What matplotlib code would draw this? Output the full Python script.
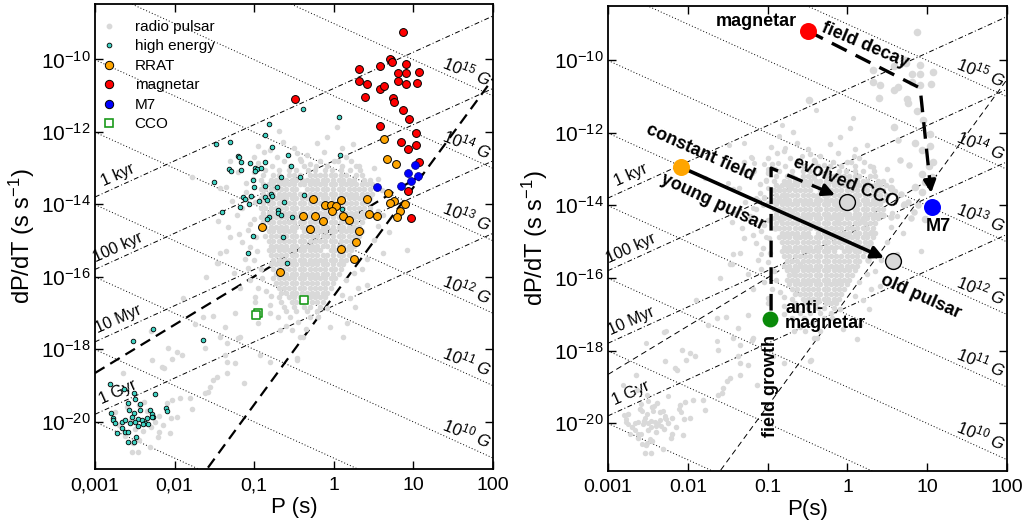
import numpy as np
import matplotlib
matplotlib.use('Agg')
import matplotlib.pyplot as plt
from matplotlib.lines import Line2D
from matplotlib.ticker import NullLocator

plt.rcParams['font.family'] = ['Liberation Sans', 'DejaVu Sans']
plt.rcParams['mathtext.fontset'] = 'custom'
plt.rcParams['mathtext.rm'] = 'Liberation Sans'
plt.rcParams['mathtext.it'] = 'Liberation Sans:italic'
plt.rcParams['mathtext.bf'] = 'Liberation Sans:bold'

# ---- data: log10 P (s), log10 dP/dt ----
# dense core of the radio pulsars, one row per log Pdot
radio_core = [
    (-12.80, [-0.62, -0.41, -0.18, 0.05, 0.21]),
    (-12.93, [-0.78, -0.55, -0.37, -0.22, -0.08, 0.1, 0.28]),
    (-13.06, [-0.86, -0.69, -0.56, -0.47, -0.33, -0.24, -0.11, -0.02, 0.09, 0.2, 0.33]),
    (-13.19, [-0.89, -0.76, -0.69, -0.56, -0.5, -0.43, -0.3, -0.24, -0.17, -0.11, -0.04, 0.02, 0.09, 0.15, 0.28, 0.35]),
    (-13.32, [-0.92, -0.79, -0.73, -0.66, -0.6, -0.53, -0.47, -0.4, -0.34, -0.27, -0.21, -0.14, -0.08, -0.01, 0.06, 0.12, 0.19, 0.25, 0.38, 0.45]),
    (-13.45, [-0.89, -0.82, -0.76, -0.69, -0.63, -0.56, -0.5, -0.43, -0.37, -0.3, -0.24, -0.17, -0.11, -0.04, 0.02, 0.09, 0.15, 0.22, 0.28, 0.35, 0.41, 0.48]),
    (-13.58, [-0.92, -0.86, -0.79, -0.73, -0.66, -0.6, -0.53, -0.47, -0.34, -0.27, -0.21, -0.14, -0.08, -0.01, 0.06, 0.12, 0.19, 0.25, 0.32, 0.38, 0.45]),
    (-13.71, [-0.89, -0.82, -0.76, -0.69, -0.63, -0.56, -0.5, -0.43, -0.37, -0.3, -0.24, -0.17, -0.11, -0.04, 0.02, 0.09, 0.15, 0.22, 0.28, 0.35, 0.41, 0.48]),
    (-13.84, [-0.92, -0.86, -0.79, -0.73, -0.66, -0.6, -0.53, -0.47, -0.4, -0.34, -0.27, -0.21, -0.14, -0.08, -0.01, 0.06, 0.12, 0.19, 0.25, 0.32, 0.38, 0.45]),
    (-13.97, [-0.89, -0.82, -0.76, -0.69, -0.63, -0.56, -0.5, -0.43, -0.37, -0.3, -0.24, -0.17, -0.11, -0.04, 0.02, 0.09, 0.15, 0.22, 0.28, 0.35, 0.41]),
    (-14.10, [-0.92, -0.86, -0.79, -0.73, -0.66, -0.6, -0.53, -0.47, -0.4, -0.34, -0.27, -0.21, -0.14, -0.08, -0.01, 0.12, 0.19, 0.25, 0.32, 0.38, 0.45]),
    (-14.23, [-0.89, -0.82, -0.76, -0.69, -0.63, -0.56, -0.5, -0.43, -0.37, -0.3, -0.24, -0.17, -0.11, -0.04, 0.02, 0.09, 0.15, 0.22, 0.28, 0.35, 0.41]),
    (-14.36, [-0.92, -0.86, -0.79, -0.73, -0.66, -0.6, -0.53, -0.47, -0.4, -0.34, -0.27, -0.21, -0.14, -0.08, -0.01, 0.06, 0.12, 0.19, 0.25, 0.32, 0.38]),
    (-14.49, [-0.89, -0.82, -0.76, -0.69, -0.63, -0.56, -0.5, -0.43, -0.37, -0.3, -0.24, -0.17, -0.11, -0.04, 0.02, 0.09, 0.15, 0.22, 0.28, 0.35]),
    (-14.62, [-0.86, -0.79, -0.73, -0.66, -0.6, -0.53, -0.47, -0.4, -0.34, -0.27, -0.21, -0.14, -0.08, -0.01, 0.06, 0.12, 0.19, 0.25, 0.32]),
    (-14.75, [-0.82, -0.76, -0.69, -0.63, -0.56, -0.5, -0.37, -0.3, -0.24, -0.17, -0.11, -0.04, 0.02, 0.09, 0.15, 0.22, 0.28, 0.35]),
    (-14.88, [-0.86, -0.79, -0.73, -0.66, -0.6, -0.53, -0.47, -0.4, -0.34, -0.27, -0.21, -0.14, -0.08, -0.01, 0.06, 0.12, 0.19, 0.25, 0.32]),
    (-15.01, [-0.82, -0.76, -0.69, -0.63, -0.56, -0.5, -0.43, -0.37, -0.3, -0.24, -0.17, -0.11, -0.04, 0.02, 0.09, 0.15, 0.22, 0.28]),
    (-15.14, [-0.79, -0.73, -0.66, -0.6, -0.53, -0.47, -0.4, -0.34, -0.27, -0.21, -0.14, -0.08, -0.01, 0.06, 0.12, 0.19, 0.25]),
    (-15.27, [-0.82, -0.76, -0.69, -0.63, -0.56, -0.5, -0.43, -0.37, -0.3, -0.24, -0.17, -0.04, 0.02, 0.09, 0.15, 0.22]),
    (-15.40, [-0.79, -0.73, -0.66, -0.6, -0.53, -0.47, -0.4, -0.34, -0.27, -0.21, -0.14, -0.08, -0.01, 0.06, 0.12, 0.19]),
    (-15.53, [-0.76, -0.69, -0.63, -0.56, -0.5, -0.43, -0.37, -0.3, -0.24, -0.17, -0.11, -0.04, 0.02, 0.09, 0.15]),
    (-15.66, [-0.79, -0.73, -0.66, -0.6, -0.53, -0.47, -0.4, -0.34, -0.27, -0.21, -0.14, -0.08, -0.01, 0.06, 0.12]),
    (-15.79, [-0.76, -0.69, -0.63, -0.56, -0.5, -0.43, -0.37, -0.3, -0.24, -0.17, -0.11, -0.04, 0.02, 0.09]),
    (-15.92, [-0.73, -0.66, -0.6, -0.53, -0.47, -0.4, -0.34, -0.27, -0.21, -0.14, -0.08, -0.01, 0.06]),
    (-16.05, [-0.76, -0.69, -0.63, -0.56, -0.5, -0.43, -0.37, -0.3, -0.24, -0.17, -0.11, -0.04, 0.02]),
    (-16.18, [-0.73, -0.66, -0.6, -0.53, -0.47, -0.4, -0.34, -0.27, -0.21, -0.14, -0.08, -0.01]),
    (-16.31, [-0.69, -0.63, -0.56, -0.5, -0.43, -0.37, -0.3, -0.24, -0.17, -0.11, -0.04]),
    (-16.44, [-0.66, -0.6, -0.53, -0.47, -0.4, -0.34, -0.27, -0.21, -0.14, -0.08]),
    (-16.57, [-0.69, -0.56, -0.5, -0.43, -0.37, -0.3, -0.24, -0.17, -0.11]),
    (-16.70, [-0.66, -0.53, -0.47, -0.4, -0.27, -0.21, -0.14]),
    (-16.83, [-0.63, -0.5, -0.37, -0.3, -0.17]),
    (-16.96, [-0.6, -0.47, -0.34, -0.21]),
    (-17.10, [-0.55, -0.3]),
]

# scattered radio pulsars outside the core
radio_sparse = [
    (-0.685, -11.98), (-0.956, -12.38), (-0.634, -12.29), (-0.466, -12.59), (-0.34, -12.64),
    (-0.215, -12.30), (-1.785, -13.25), (-1.43, -13.56), (-1.30, -12.80), (-1.354, -13.51),
    (-1.451, -14.45), (-1.325, -14.62), (-1.187, -14.83), (-1.053, -15.17), (0.036, -11.86),
    (-0.089, -12.13), (0.245, -12.33), (0.10, -12.45),
    (-1.974, -18.07), (-2.029, -18.27), (-2.133, -18.53), (-1.618, -17.98), (-1.367, -18.16),
    (-1.241, -18.39), (-1.345, -18.67), (-1.514, -18.85), (-1.471, -18.76), (-1.555, -19.04),
    (-1.577, -19.18), (-1.618, -19.22), (-1.807, -19.36), (-1.785, -19.64), (-1.932, -19.36),
    (-2.036, -19.41), (-1.974, -19.87), (-2.205, -20.42), (-2.309, -20.70), (-2.539, -20.83),
    (-2.456, -20.83), (-2.644, -18.67), (-2.288, -18.30), (-2.162, -18.49), (-2.079, -17.98),
    (-1.911, -18.16), (-1.43, -17.66), (-1.345, -17.84), (-1.20, -17.70), (-1.451, -15.63),
    (-1.64, -17.10), (-2.058, -20.33), (-2.519, -20.60),
    (-2.6, -19.6), (-2.45, -19.55), (-2.35, -19.7), (-2.2, -19.85), (-2.5, -20.2),
    (-2.4, -20.25), (-2.3, -20.15), (-2.7, -20.1), (-2.55, -19.95), (-2.25, -20.0),
    (-2.38, -19.45), (-2.15, -20.1), (-2.62, -20.4), (-2.45, -20.5), (-2.2, -20.3),
    (-2.75, -19.75), (-2.1, -19.5), (-2.05, -19.9),
    (-0.99, -16.55), (-0.99, -16.69), (-0.789, -16.53), (-0.80, -16.78), (-1.241, -17.01),
    (-1.521, -17.09), (-1.367, -17.38), (-1.178, -17.66), (-0.948, -17.27), (-0.676, -17.47),
    (-0.425, -17.66), (-0.529, -17.47), (-0.089, -16.87), (0.119, -17.67), (-0.927, -18.16),
    (-0.80, -18.35), (-0.466, -18.30), (-1.345, -18.35), (-1.43, -15.35), (-1.471, -15.63),
    (0.622, -15.34), (0.916, -15.26), (0.266, -16.85), (0.162, -17.29), (-0.383, -17.66),
    (-0.459, -18.25), (-1.128, -18.94), (0.413, -16.23), (0.697, -14.76), (0.55, -14.6),
    (0.62, -14.3), (0.7, -14.0), (0.5, -15.0),
    (-1.1, -13.4), (-1.05, -13.8), (-1.15, -14.1), (-1.0, -14.4), (-1.08, -14.7),
    (-1.2, -13.1), (-1.0, -13.1), (-1.12, -15.5), (-1.25, -15.9), (-1.05, -16.1),
    (-0.95, -16.3), (-1.6, -16.0), (-1.9, -16.6), (-1.75, -17.3), (-2.3, -17.5),
    (-1.0, -12.7), (-0.8, -12.5),
    (-0.95, -12.85), (-0.72, -12.7), (-0.5, -12.45), (-0.3, -12.9), (-0.12, -12.55),
    (0.15, -12.7), (0.32, -12.95), (-0.88, -12.55), (-0.42, -12.75), (0.0, -12.8),
    (-1.02, -13.3), (-1.1, -13.65), (-0.99, -13.95), (-1.22, -14.3), (-1.05, -14.55),
    (-0.98, -14.9), (-1.15, -15.05), (-0.97, -15.3), (-1.0, -15.55), (-0.92, -15.8),
    (-1.08, -15.75), (-0.9, -16.05), (-0.85, -16.4), (-1.18, -16.3), (-1.3, -14.9),
    (-1.35, -15.3), (-1.28, -13.9),
    (-0.7, -17.1), (-0.45, -17.25), (-0.2, -17.1), (-0.6, -17.35), (-0.05, -17.4),
    (-0.35, -17.45), (-0.8, -17.0),
    (0.3, -16.3), (0.2, -16.6), (0.35, -15.8), (0.42, -15.5), (0.56, -14.2),
    (0.6, -13.6), (0.55, -13.3), (0.5, -13.0), (0.1, -16.5), (0.15, -16.1), (0.25, -15.9),
]

high_energy = [
    (-0.39, -11.37), (0.065, -11.60), (-0.82, -11.78), (-0.86, -12.09), (-1.48, -12.34),
    (-1.30, -12.29), (-0.78, -12.41), (-0.575, -12.64), (-1.21, -12.66), (-1.19, -12.69),
    (-1.17, -12.84), (-1.05, -12.87), (-0.87, -12.84), (-1.32, -13.03), (-1.29, -13.08),
    (-1.17, -13.05), (-0.99, -12.99), (-0.97, -13.02), (-0.99, -13.08), (-0.91, -12.99),
    (-0.54, -12.94), (-1.02, -13.32), (-1.50, -13.38), (-0.66, -13.24), (-0.42, -13.24),
    (-1.00, -13.51), (-0.86, -13.49), (-0.71, -13.53), (-0.79, -13.72), (-0.78, -13.76),
    (-1.04, -13.77), (-1.14, -13.81), (-1.12, -13.85), (-0.86, -13.79), (-0.84, -13.88),
    (-0.94, -13.91), (-1.06, -14.00), (-0.63, -13.93), (-0.38, -13.74), (-1.18, -14.07),
    (-1.40, -14.21), (-0.70, -14.16), (-0.70, -14.23), (-0.67, -14.30), (-0.81, -14.34),
    (-0.84, -14.41), (-0.53, -14.36), (-1.02, -14.88), (-0.64, -14.91), (0.08, -12.64),
    (0.10, -14.13), (-1.08, -15.35), (-0.59, -15.63), (-1.64, -17.75), (-2.27, -17.45),
    (-2.52, -17.78),
    (-2.81, -18.96), (-2.64, -19.10), (-2.51, -19.22), (-2.50, -19.38), (-2.59, -19.48),
    (-2.25, -19.24), (-2.43, -19.52), (-2.57, -19.68), (-2.80, -19.77), (-2.51, -19.76),
    (-2.44, -19.68), (-2.31, -19.68), (-2.29, -19.80), (-2.27, -19.88), (-2.54, -19.87),
    (-2.78, -19.90), (-2.77, -19.96), (-2.75, -20.03), (-2.66, -20.01), (-2.62, -19.96),
    (-2.46, -19.94), (-2.41, -19.96), (-2.35, -19.91), (-2.37, -20.03), (-2.33, -20.07),
    (-2.50, -20.01), (-2.56, -20.03), (-2.46, -20.12), (-2.40, -20.08), (-2.11, -19.62),
    (-2.09, -19.70), (-2.66, -20.19), (-2.62, -20.30), (-2.59, -20.30), (-2.73, -20.31),
    (-2.48, -20.44), (-2.51, -20.56), (-2.58, -20.57), (-2.28, -19.87),
]

rrat = [
    (0.631, -12.20), (0.662, -12.76), (0.775, -12.89), (0.675, -13.70), (0.760, -13.90),
    (0.702, -13.96), (0.888, -13.98), (0.828, -14.18), (0.790, -14.34), (0.417, -13.86),
    (0.442, -14.27), (0.539, -14.32), (0.313, -14.74), (0.276, -15.04), (0.093, -15.24),
    (0.258, -15.52), (-0.265, -13.85), (-0.113, -14.02), (-0.039, -14.02), (0.021, -14.05),
    (0.088, -13.88), (-0.029, -14.20), (0.119, -14.33), (0.185, -14.43), (-0.383, -14.33),
    (-0.232, -14.33), (-0.132, -14.46), (-0.299, -14.69), (-0.905, -14.62), (-0.673, -15.88),
]

magnetar = [
    (0.873, -9.23), (0.715, -10.01), (0.580, -10.17), (0.706, -9.99), (0.727, -10.08),
    (0.317, -10.27), (0.903, -10.13), (0.810, -10.37), (0.903, -10.37), (1.074, -10.34),
    (0.317, -10.59), (0.413, -10.68), (0.580, -10.82), (0.634, -10.73), (0.810, -10.59),
    (0.903, -10.68), (1.041, -10.66), (-0.484, -11.10), (0.396, -11.04), (0.747, -11.07),
    (0.760, -11.19), (0.873, -11.41), (0.941, -11.64), (0.580, -11.83), (1.029, -12.04),
    (0.848, -12.29), (0.928, -12.47), (1.029, -12.36), (1.070, -12.82), (0.928, -13.63),
    (0.966, -14.37),
]

m7 = [(1.016, -12.91), (0.928, -13.13), (1.058, -13.22), (0.974, -13.36), (0.848, -13.49), (0.539, -13.51)]

cco = [(-0.374, -16.64), (-0.948, -17.01), (-0.981, -17.06)]

# reference lines
field_lines_G = [1e8, 1e9, 1e10, 1e11, 1e12, 1e13, 1e14, 1e15]
field_labels = {1e10: '10', 1e11: '11', 1e12: '12', 1e13: '13', 1e14: '14', 1e15: '15'}
age_lines_yr = [1e3, 1e5, 1e7, 1e9]
age_labels = ['1 kyr', '100 kyr', '10 Myr', '1 Gyr']
death_logk, death_slope = -16.53, 3.0
spinup_logk, spinup_slope = -14.66, 4.0 / 3.0

p_ticks = [1e-3, 1e-2, 1e-1, 1, 10, 100]
left_xlabels = ['0,001', '0,01', '0,1', '1', '10', '100']
right_xlabels = ['0.001', '0.01', '0.1', '1', '10', '100']
pdot_ticks = [1e-20, 1e-18, 1e-16, 1e-14, 1e-12, 1e-10]

GREY = '#d9d9d9'


def xy(pairs):
    a = np.array(pairs, dtype=float)
    return 10 ** a[:, 0], 10 ** a[:, 1]


core_p = []
core_pd = []
for lpd, row in radio_core:
    core_p += row
    core_pd += [lpd] * len(row)
radio_p = 10 ** np.concatenate([core_p, np.array(radio_sparse)[:, 0]])
radio_pd = 10 ** np.concatenate([core_pd, np.array(radio_sparse)[:, 1]])

P = np.logspace(-3, 2, 300)
# spin-up line stops where it meets the death line
p_cross = 10 ** ((spinup_logk - death_logk) / (death_slope - spinup_slope))
P_su = np.logspace(-3, np.log10(p_cross), 200)


def background(ax, thick):
    for B in field_lines_G:
        ax.plot(P, (B / 3.2e19) ** 2 / P, color='k', lw=0.7, ls=(0, (1, 2.2)), zorder=1)
    for tau in age_lines_yr:
        ax.plot(P, P / (2 * tau * 3.156e7), color='k', lw=0.7, ls=(0, (5, 2.5, 1, 2.5)), zorder=1)
    if thick:
        kw = dict(color='k', lw=1.6, ls=(0, (5, 3)), zorder=1)
    else:
        kw = dict(color='k', lw=0.7, ls=(0, (6, 4)), zorder=1)
    ax.plot(P, 10 ** death_logk * P ** death_slope, **kw)
    ax.plot(P_su, 10 ** spinup_logk * P_su ** spinup_slope, **kw)
    # labels of B and age lines
    for B, txt in field_labels.items():
        lp = 1.67
        lpd = 2 * np.log10(B / 3.2e19) - lp + 0.36
        ax.text(10 ** lp, 10 ** lpd, r'$\mathit{10^{%s}}$ G' % txt, fontsize=12, style='italic',
                rotation=-22, ha='center', va='center', zorder=2)
    for tau, txt in zip(age_lines_yr, age_labels):
        lp = -2.71
        lpd = lp - np.log10(2 * tau * 3.156e7) + 0.33
        ax.text(10 ** lp, 10 ** lpd, txt, fontsize=11.5, rotation=24,
                ha='center', va='center', zorder=2)


def style(ax, xlabels, xlabel, ybot, ytop):
    ax.set_xscale('log')
    ax.set_yscale('log')
    ax.set_xlim(1e-3, 1e2)
    ax.set_ylim(10 ** ybot, 10 ** ytop)
    ax.set_xticks(p_ticks)
    ax.set_xticklabels(xlabels)
    ax.set_yticks(pdot_ticks)
    ax.set_yticklabels([r'$10^{%d}$' % int(round(np.log10(t))) for t in pdot_ticks])
    ax.xaxis.set_minor_locator(NullLocator())
    ax.yaxis.set_minor_locator(NullLocator())
    ax.tick_params(direction='in', top=True, right=True, length=6, width=1.0)
    ax.tick_params(axis='x', labelsize=14, pad=6)
    ax.tick_params(axis='y', labelsize=15, pad=3)
    for s in ax.spines.values():
        s.set_linewidth(1.3)
    ax.set_xlabel(xlabel, fontsize=16, labelpad=2)
    ax.set_ylabel(r'dP/dT (s s$^{-1}$)', fontsize=17)
    ax.yaxis.set_label_coords(-0.145, 0.5)


fig = plt.figure(figsize=(10.26, 5.24), dpi=100)
ax1 = fig.add_axes([0.0926, 0.105, 0.388, 0.8874])
ax2 = fig.add_axes([0.5926, 0.1011, 0.389, 0.8874])

# ---------------- left panel ----------------
background(ax1, thick=True)
ax1.scatter(radio_p, radio_pd, s=16, c=GREY, lw=0, zorder=2)
hx, hy = xy(high_energy)
ax1.scatter(hx, hy, s=11, c='#3fd3c3', edgecolors='k', linewidths=0.6, zorder=3)
rx, ry = xy(rrat)
ax1.scatter(rx, ry, s=32, c='#ffa500', edgecolors='k', linewidths=0.7, zorder=4)
mx, my = xy(magnetar)
ax1.scatter(mx, my, s=32, c='#ff0000', edgecolors='k', linewidths=0.7, zorder=4)
bx, by = xy(m7)
ax1.scatter(bx, by, s=32, c='#0000ff', edgecolors='#000080', linewidths=0.5, zorder=4)
cx, cy = xy(cco)
ax1.scatter(cx, cy, s=34, marker='s', facecolors='white', edgecolors='#1a9a1a', linewidths=1.2, zorder=4)

handles = [
    Line2D([], [], ls='', marker='o', ms=3.2, mfc=GREY, mec=GREY),
    Line2D([], [], ls='', marker='o', ms=3.4, mfc='#3fd3c3', mec='k', mew=0.6),
    Line2D([], [], ls='', marker='o', ms=6, mfc='#ffa500', mec='k', mew=0.7),
    Line2D([], [], ls='', marker='o', ms=6, mfc='#ff0000', mec='k', mew=0.7),
    Line2D([], [], ls='', marker='o', ms=6, mfc='#0000ff', mec='k', mew=0.7),
    Line2D([], [], ls='', marker='s', ms=6, mfc='white', mec='#1a9a1a', mew=1.2),
]
ax1.legend(handles, ['radio pulsar', 'high energy', 'RRAT', 'magnetar', 'M7', 'CCO'],
           loc='upper left', bbox_to_anchor=(0.0, 0.979), frameon=False, fontsize=11,
           handlelength=1.0, handletextpad=1.2, labelspacing=0.36, borderpad=0.2,
           borderaxespad=0.2)
style(ax1, left_xlabels, 'P (s)', -21.31, -8.47)

# ---------------- right panel ----------------
background(ax2, thick=False)
ax2.scatter(radio_p, radio_pd, s=16, c=GREY, lw=0, zorder=2)
ax2.scatter(hx, hy, s=14, c=GREY, lw=0, zorder=2)
ax2.scatter(rx, ry, s=22, c=GREY, lw=0, zorder=2)
ax2.scatter(mx, my, s=30, c=GREY, lw=0, zorder=2)
ax2.scatter(bx, by, s=30, c=GREY, lw=0, zorder=2)
ax2.scatter(cx, cy, s=22, c=GREY, lw=0, zorder=2)

# evolutionary tracks (log10 P, log10 Pdot)
young = (-2.085, -12.95)
old = (0.571, -15.54)
magn = (-0.494, -9.20)
decay_corner = (0.91, -10.77)
m7_star = (1.06, -14.05)
anti = (-0.97, -17.13)
growth_corner = (-0.957, -12.975)
evolved = (0.0, -13.91)


def pt(c):
    return 10 ** c[0], 10 ** c[1]


ax2.annotate('', xy=pt((0.459, -15.45)), xytext=pt(young),
             arrowprops=dict(arrowstyle='-|>', lw=2.6, color='k', mutation_scale=18,
                             shrinkA=0, shrinkB=0), zorder=4)
dash = (0, (5, 3))
ax2.plot(*zip(pt(magn), pt(decay_corner), pt((1.033, -13.35))), color='k', lw=2.4, ls=dash, zorder=4)
ax2.annotate('', xy=pt((1.048, -13.66)), xytext=pt((1.03, -13.3)),
             arrowprops=dict(arrowstyle='-|>', lw=2.4, color='k', mutation_scale=18,
                             shrinkA=0, shrinkB=0), zorder=4)
ax2.plot(*zip(pt((-0.957, -16.9)), pt(growth_corner), pt((-0.25, -13.63))), color='k', lw=2.4, ls=dash, zorder=4)
ax2.annotate('', xy=pt((-0.155, -13.72)), xytext=pt((-0.3, -13.585)),
             arrowprops=dict(arrowstyle='-|>', lw=2.4, color='k', mutation_scale=18,
                             shrinkA=0, shrinkB=0), zorder=4)

ax2.scatter(*pt(young), s=150, c='#ffa500', lw=0, zorder=5)
ax2.scatter(*pt(magn), s=150, c='#ff0000', lw=0, zorder=5)
ax2.scatter(*pt(m7_star), s=150, c='#0000ff', lw=0, zorder=5)
ax2.scatter(*pt(anti), s=130, c='#0a8a0a', lw=0, zorder=5)
ax2.scatter(*pt(old), s=130, c='#d8d8d8', edgecolors='k', linewidths=1.0, zorder=5)
ax2.scatter(*pt(evolved), s=130, c='#d8d8d8', edgecolors='k', linewidths=1.0, zorder=5)

bold = dict(fontsize=13, fontweight='bold', zorder=6)
ax2.text(*pt((-0.632, -8.95)), 'magnetar', ha='right', va='center', **bold)
ax2.text(*pt((0.221, -9.59)), 'field decay', ha='center', va='center', rotation=-23, **bold)
ax2.text(*pt((-1.847, -12.56)), 'constant field', ha='center', va='center', rotation=-24, **bold)
ax2.text(*pt((-1.684, -13.91)), 'young pulsar', ha='center', va='center', rotation=-25, **bold)
ax2.text(*pt((0.922, -16.53)), 'old pulsar', ha='center', va='center', rotation=-24, **bold)
ax2.text(*pt((-0.018, -13.39)), 'evolved CCO', ha='center', va='center', rotation=-22, **bold)
ax2.text(*pt((1.135, -14.57)), 'M7', ha='center', va='center', **bold)
ax2.text(*pt((-0.782, -17.05)), 'anti-\nmagnetar', ha='left', va='center', linespacing=0.85, **bold)
ax2.text(*pt((-0.97, -18.98)), 'field growth', ha='center', va='center', rotation=90, **bold)

style(ax2, right_xlabels, 'P(s)', -21.32, -8.51)

fig.savefig('out.png', dpi=100)
